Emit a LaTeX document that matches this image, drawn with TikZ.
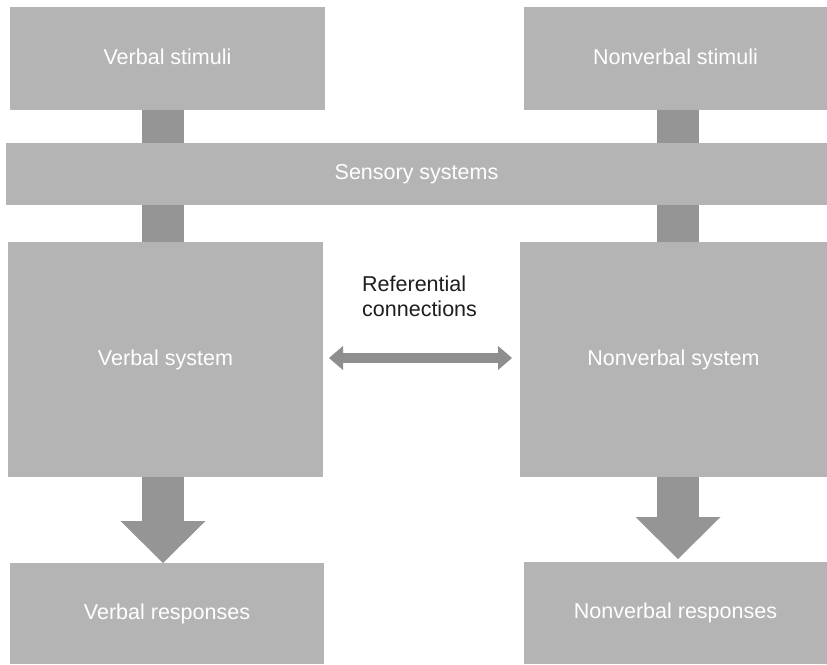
\documentclass[tikz,border=0pt]{standalone}
\usepackage{fontspec}
\setmainfont{Liberation Sans}
\usetikzlibrary{arrows.meta}
\definecolor{boxgray}{RGB}{180,180,180}
\definecolor{linkgray}{RGB}{149,149,149}
\definecolor{refgray}{RGB}{142,142,142}
\definecolor{labeltext}{RGB}{30,30,30}
\begin{document}
\begin{tikzpicture}[x=1pt,y=-1pt,
  block/.style={fill=boxgray, text=white, inner sep=0pt, outer sep=0pt,
    text height=13pt, text depth=2pt,
    font=\fontsize{21.5}{25}\selectfont},
  link/.style={draw=linkgray, line width=42pt},
  bigarrow/.style={draw=linkgray, line width=42pt,
    -{Triangle[width=85pt,length=42pt,line width=0pt]}},
  refarrow/.style={draw=refgray, line width=10pt,
    {Triangle[width=24pt,length=14pt,line width=0pt]}-{Triangle[width=24pt,length=14pt,line width=0pt]}},
  reflabel/.style={text=labeltext, inner sep=0pt, align=left,
    font=\fontsize{21.5}{25}\selectfont}]
\useasboundingbox (0,0) rectangle (827,664);
\fill[white] (0,0) rectangle (827,664);

% boxes
\node[block, minimum width=315pt, minimum height=103pt] (vs)    at (167.5,58.5)  {Verbal stimuli};
\node[block, minimum width=303pt, minimum height=103pt] (nvs)   at (675.5,58.5)  {Nonverbal stimuli};
\node[block, minimum width=821pt, minimum height=62pt]  (ss)    at (416.5,174)   {Sensory systems};
\node[block, minimum width=315pt, minimum height=235pt] (vsys)  at (165.5,359.5) {Verbal system};
\node[block, minimum width=307pt, minimum height=235pt] (nvsys) at (673.5,359.5) {Nonverbal system};
\node[block, minimum width=314pt, minimum height=101pt] (vr)    at (167,613.5)   {Verbal responses};
\node[block, minimum width=303pt, minimum height=102pt] (nvr)   at (675.5,613)   {Nonverbal responses};

% column axes of the vertical links
\coordinate (lx) at (163,0);
\coordinate (rx) at (678,0);

% stimuli -> sensory systems -> systems
\draw[link] (vs.south -| lx)  -- (ss.north -| lx);
\draw[link] (ss.south -| lx)  -- (vsys.north -| lx);
\draw[link] (nvs.south -| rx) -- (ss.north -| rx);
\draw[link] (ss.south -| rx)  -- (nvsys.north -| rx);

% systems -> responses
\draw[bigarrow] (vsys.south -| lx)  -- (vr.north -| lx);
\draw[bigarrow] (nvsys.south -| rx) -- ([yshift=3pt]nvr.north -| rx);

% referential connections
\draw[refarrow, shorten <=6pt, shorten >=8pt] ([yshift=1.5pt]vsys.east) -- ([yshift=1.5pt]nvsys.west);
\node[reflabel, anchor=north west] (rc) at (362,276) {Referential\\connections};
\end{tikzpicture}
\end{document}
